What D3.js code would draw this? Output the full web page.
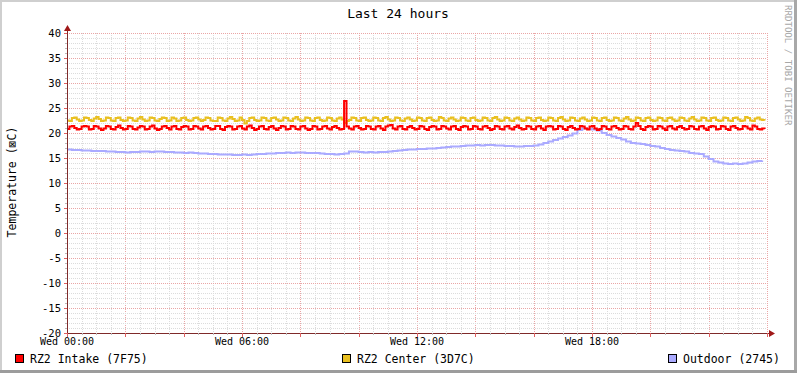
<!DOCTYPE html>
<html><head><meta charset="utf-8">
<script src="https://cdn.jsdelivr.net/npm/d3@7"></script>
<style>
html,body{margin:0;padding:0;background:#fff;}
svg text{font-family:"DejaVu Sans Mono",monospace;}
</style></head>
<body>
<svg id="chart" width="797" height="373"></svg>
<script>
// ---------- data ----------
const title = "Last 24 hours";
const yTitle = "Temperature (\u22A0C)";
const watermark = "RRDTOOL / TOBI OETIKER";
const xTickLabels = ["Wed 00:00", "Wed 06:00", "Wed 12:00", "Wed 18:00"];
const xTickHours = [0, 6, 12, 18];
const yTicks = [40, 35, 30, 25, 20, 15, 10, 5, 0, -5, -10, -15, -20];
const seriesNames = ["RZ2 Intake (7F75)", "RZ2 Center (3D7C)", "Outdoor (2745)"];
const seriesColors = ["#ff0000", "#e9c020", "#aaaaff"];

// RZ2 Intake, 5-minute samples over 24 h
const intake = [
20.8,21.3,21.4,21.0,20.7,20.8,21.3,21.4,21.3,20.7,20.8,21.4,21.3,20.9,20.6,20.9,21.4,21.3,20.8,20.7,21.2,21.5,21.0,20.7,
20.8,21.4,21.3,20.8,20.7,21.1,21.4,21.3,20.7,20.8,21.3,21.5,20.9,20.6,20.8,21.3,21.4,21.0,20.7,21.3,21.4,20.8,20.7,21.2,
21.4,21.3,20.7,20.8,21.4,21.3,20.9,20.7,21.3,21.4,21.0,20.7,20.8,21.4,21.4,20.8,20.6,21.2,21.4,21.3,20.7,20.8,21.3,21.4,
20.9,20.7,21.3,21.5,21.0,20.6,20.8,21.3,21.4,20.8,20.7,21.2,21.4,20.9,20.6,21.0,21.4,21.3,20.7,20.8,21.4,21.3,20.8,20.7,
21.3,21.4,20.9,20.6,20.8,21.4,21.3,20.7,20.8,21.3,21.4,20.9,20.7,21.2,21.4,21.0,20.7,20.8,26.4,21.3,20.9,20.7,21.3,21.4,
21.0,20.7,20.8,21.4,21.3,20.8,20.7,21.3,21.4,20.9,20.6,21.3,21.5,21.6,20.9,20.7,21.3,21.4,20.8,20.7,21.2,21.4,21.0,20.7,
20.8,21.4,21.3,20.8,20.6,21.2,21.4,21.3,20.7,20.8,21.4,21.3,20.9,20.7,21.3,21.4,20.8,20.6,21.2,21.4,21.3,20.7,20.8,21.4,
21.3,20.8,20.7,21.3,21.4,21.0,20.6,20.8,21.4,21.3,20.8,20.7,21.3,21.4,20.9,20.7,21.2,21.5,21.0,20.7,20.8,21.4,21.3,20.8,
20.7,21.3,21.4,20.9,20.6,21.3,21.4,21.3,20.7,20.8,21.4,21.3,20.8,20.6,21.2,21.4,21.0,20.7,20.8,21.4,21.3,20.9,20.7,21.3,
21.4,20.9,20.6,20.8,21.4,21.3,20.8,20.7,21.3,21.4,21.0,20.7,20.8,21.4,21.3,20.8,20.7,21.3,22.0,21.4,20.8,20.6,21.2,21.4,
21.3,20.7,20.8,21.4,21.3,20.9,20.6,21.3,21.4,20.9,20.7,21.2,21.4,21.0,20.7,20.8,21.4,21.3,20.8,20.7,21.3,21.4,20.9,20.6,
21.2,21.4,21.3,20.7,20.8,21.4,21.3,20.8,20.6,21.3,21.4,21.0,20.7,20.8,21.4,21.3,20.9,20.7,21.5,21.3,20.8,20.7,20.9,20.8
];

// RZ2 Center, 5-minute samples over 24 h
const center = [
22.5,22.4,23.0,23.1,22.7,22.4,22.5,23.1,23.0,22.6,22.4,22.9,23.2,22.8,22.4,22.5,23.1,23.0,22.5,22.4,23.0,23.1,22.6,22.4,
22.5,23.1,23.0,22.5,22.4,22.9,23.2,22.7,22.4,22.5,23.1,23.0,22.5,22.4,22.8,23.1,23.0,22.4,22.5,23.1,22.9,22.4,22.5,23.0,
23.1,22.6,22.4,22.5,23.0,23.1,22.7,22.4,22.6,23.1,23.0,22.5,22.4,22.4,23.1,23.0,22.5,22.4,22.9,23.2,22.8,22.4,22.5,23.1,
22.6,21.9,22.4,23.0,23.1,22.6,22.4,22.5,23.1,23.0,22.5,22.4,23.0,23.1,22.7,22.4,22.5,23.1,23.0,22.5,22.4,22.9,23.2,22.7,
22.4,22.5,23.1,23.0,22.5,22.4,23.0,23.1,22.6,22.4,22.5,23.1,23.0,22.5,22.4,22.9,23.1,22.7,22.0,22.4,22.6,23.1,23.0,22.5,
22.4,23.0,23.1,22.6,22.4,22.5,23.1,23.0,22.5,22.4,23.0,23.2,22.7,22.4,22.5,23.1,23.0,22.5,22.4,22.9,23.1,22.7,22.4,22.5,
23.1,23.0,22.5,22.4,23.0,23.1,22.6,22.4,22.5,23.2,23.0,22.5,22.4,22.9,23.1,22.7,22.4,22.5,23.1,23.0,22.5,22.4,23.0,23.1,
22.6,22.4,22.5,23.1,23.0,22.5,22.4,23.0,23.2,22.7,22.4,22.5,23.1,23.0,22.5,22.4,22.9,23.1,22.7,22.4,22.5,23.1,23.0,22.5,
22.4,23.0,23.1,22.6,22.4,22.5,23.1,23.0,22.5,22.4,23.0,23.2,22.7,22.4,22.5,23.1,23.0,22.5,22.4,22.9,23.1,22.7,22.4,22.5,
23.1,23.0,22.5,22.4,23.0,23.1,22.6,22.4,22.5,23.1,23.0,22.5,22.4,22.9,23.2,22.7,22.4,22.5,23.1,23.0,22.5,22.4,23.0,23.1,
22.6,22.4,22.5,23.1,23.0,22.5,22.4,23.0,23.1,22.7,22.4,22.5,23.1,23.0,22.5,22.4,22.9,23.2,22.7,22.4,22.5,23.1,23.0,22.5,
22.4,23.0,23.1,22.6,22.4,22.5,23.1,23.0,22.5,22.4,23.0,23.1,22.7,22.4,22.5,23.2,23.0,22.5,22.4,22.9,23.1,22.7,22.6,22.5
];

// Outdoor, 10-minute samples over 24 h
const outdoor = [
16.7,16.6,16.6,16.5,16.5,16.4,16.4,16.4,16.3,16.3,
16.2,16.2,16.1,16.2,16.2,16.3,16.3,16.2,16.3,16.3,
16.2,16.2,16.1,16.1,16.0,16.1,16.0,15.9,15.9,15.8,
15.8,15.7,15.7,15.7,15.6,15.6,15.7,15.6,15.7,15.8,
15.8,15.9,15.9,16.0,16.0,16.1,16.0,16.1,16.1,16.0,
16.0,16.0,15.9,15.8,15.8,15.7,15.8,15.9,16.3,16.3,
16.2,16.1,16.2,16.1,16.2,16.2,16.3,16.4,16.5,16.6,
16.7,16.7,16.8,16.8,16.9,16.9,17.0,17.1,17.2,17.3,
17.3,17.4,17.5,17.5,17.6,17.5,17.6,17.6,17.5,17.5,
17.4,17.4,17.3,17.3,17.4,17.4,17.5,17.7,18.0,18.3,
18.6,18.9,19.2,19.5,19.9,20.6,20.9,20.8,20.7,20.5,
20.0,19.6,19.3,19.0,18.7,18.3,18.0,17.9,17.8,17.6,
17.4,17.3,17.0,16.8,16.6,16.5,16.4,16.3,16.0,15.9,
15.8,15.3,14.8,14.3,14.1,13.9,13.8,13.9,13.8,13.9,
14.1,14.3,14.4,14.5
];

// ---------- drawing ----------
const W = 797, H = 373;
const svg = d3.select("#chart");
const x = d3.scaleLinear().domain([0, 24]).range([67, 767]);
const y = d3.scaleLinear().domain([-20, 40]).range([333, 33]);

// frame
svg.append("rect").attr("x",0).attr("y",0).attr("width",W).attr("height",H).attr("fill","#fff");
svg.append("rect").attr("x",0).attr("y",0).attr("width",W).attr("height",2).attr("fill","#cfcfcf");
svg.append("rect").attr("x",0).attr("y",0).attr("width",2).attr("height",H).attr("fill","#cfcfcf");
svg.append("rect").attr("x",W-3).attr("y",0).attr("width",3).attr("height",H).attr("fill","#a8a8a8");
svg.append("rect").attr("x",0).attr("y",H-3).attr("width",W).attr("height",3).attr("fill","#9c9c9c");

const grid = svg.append("g");
// vertical grid every 30 min, major every 2 h
d3.range(0, 24.01, 0.5).forEach(h => {
  const major = Math.abs(h/2 - Math.round(h/2)) < 1e-9;
  grid.append("line").attr("x1", x(h)+0.5).attr("x2", x(h)+0.5).attr("y1", 33).attr("y2", 333)
    .attr("stroke", major ? "#eaa6a6" : "#dcdcdc").attr("stroke-dasharray","1,1").attr("shape-rendering","crispEdges");
});
// horizontal grid every 1 degree, major every 5
d3.range(-20, 40.01, 1).forEach(v => {
  const major = v % 5 === 0;
  grid.append("line").attr("x1", 67).attr("x2", 767).attr("y1", y(v)+0.5).attr("y2", y(v)+0.5)
    .attr("stroke", major ? "#eaa6a6" : "#dcdcdc").attr("stroke-dasharray","1,1").attr("shape-rendering","crispEdges");
});

// series lines
const line = d3.line().curve(d3.curveStepAfter);
function draw(vals, stepH, color){
  const pts = vals.map((v,i) => [x(i*stepH), y(v)]);
  svg.append("path").attr("d", line(pts)).attr("fill","none").attr("stroke", color).attr("stroke-width",2);
}
draw(outdoor, 24/outdoor.length, seriesColors[2]);
draw(center, 24/center.length, seriesColors[1]);
draw(intake, 24/intake.length, seriesColors[0]);

// axes
const axisColor = "#7f2a2a";
svg.append("line").attr("x1",67.5).attr("x2",67.5).attr("y1",333).attr("y2",30).attr("stroke",axisColor);
svg.append("path").attr("d","M64,31 L71,31 L67.5,25 Z").attr("fill","#a01818");
svg.append("line").attr("x1",67).attr("x2",771).attr("y1",333.5).attr("y2",333.5).attr("stroke",axisColor);
svg.append("path").attr("d","M769,330 L769,337 L775,333.5 Z").attr("fill","#a01818");
// axis ticks
d3.range(0, 24.01, 0.5).forEach(h => {
  const major = Math.abs(h/2 - Math.round(h/2)) < 1e-9;
  svg.append("line").attr("x1", x(h)+0.5).attr("x2", x(h)+0.5).attr("y1", 333).attr("y2", major ? 337 : 335)
    .attr("stroke", major ? "#e06060" : "#bbbbbb").attr("shape-rendering","crispEdges");
});
d3.range(-20, 40.01, 1).forEach(v => {
  const major = v % 5 === 0;
  svg.append("line").attr("x1", major ? 64 : 65).attr("x2", 67).attr("y1", y(v)+0.5).attr("y2", y(v)+0.5)
    .attr("stroke", major ? "#e06060" : "#bbbbbb").attr("shape-rendering","crispEdges");
});

// y tick labels
svg.append("g").selectAll("text").data(yTicks).join("text")
  .attr("x", 61).attr("y", d => y(d) + 4).attr("text-anchor","end")
  .attr("font-size","10.5px").attr("fill","#000").text(d => d);

// x tick labels
svg.append("g").selectAll("text").data(xTickHours).join("text")
  .attr("x", d => x(d)).attr("y", 344.5).attr("text-anchor","middle")
  .attr("font-size","10px").attr("fill","#000").text((d,i) => xTickLabels[i]);

// title
svg.append("text").attr("x", 398).attr("y", 18).attr("text-anchor","middle")
  .attr("font-size","13px").attr("fill","#000").text(title);

// y title
svg.append("text").attr("transform","translate(15.5,182) rotate(-90)").attr("text-anchor","middle")
  .attr("font-size","11.5px").attr("fill","#000").text(yTitle);

// watermark
svg.append("text").attr("transform","translate(785,5) rotate(90)").attr("text-anchor","start")
  .attr("font-size","9.1px").attr("fill","#a8a8a8").text(watermark);

// legend
const legendX = [15, 342, 668];
seriesNames.forEach((name, i) => {
  svg.append("rect").attr("x", legendX[i]+0.5).attr("y", 354.5).attr("width", 8).attr("height", 8)
    .attr("fill", seriesColors[i]).attr("stroke","#000").attr("stroke-width",1);
  svg.append("text").attr("x", legendX[i] + 15).attr("y", 363).attr("font-size","11.5px")
    .attr("fill","#000").text(name);
});
</script>
</body></html>
